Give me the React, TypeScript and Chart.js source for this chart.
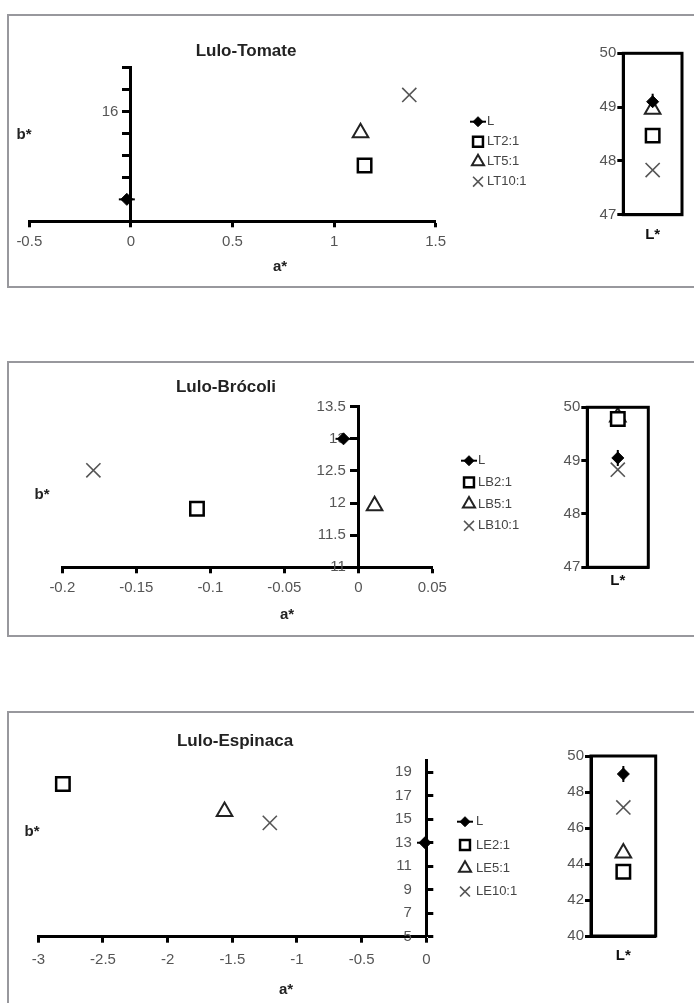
import React, { useEffect, useRef } from 'react';
import { Chart, registerables } from 'chart.js';
import { drawPoint } from 'chart.js/helpers';

Chart.register(...registerables);

// ---------------- data ----------------
const seriesTomate = ['L', 'LT2:1', 'LT5:1', 'LT10:1'];
const aTomate = [-0.02, 1.15, 1.13, 1.37];
const bTomate = [14.0, 14.77, 15.52, 16.38];
const lTomate = [49.1, 48.47, 48.96, 47.83];
const aTicksTomate = [-0.5, 0, 0.5, 1, 1.5];
const aLabelsTomate = ['-0.5', '0', '0.5', '1', '1.5'];
const bTicksTomate = [13.5, 14, 14.5, 15, 15.5, 16, 16.5, 17];
const bLabelsTomate = ['', '', '', '', '', '16', '', ''];
const lTicksTomate = [47, 48, 49, 50];
const lLabelsTomate = ['47', '48', '49', '50'];

const seriesBrocoli = ['L', 'LB2:1', 'LB5:1', 'LB10:1'];
const aBrocoli = [-0.01, -0.109, 0.011, -0.179];
const bBrocoli = [13.0, 11.91, 11.96, 12.51];
const lBrocoli = [49.05, 49.78, 49.82, 48.83];
const aTicksBrocoli = [-0.2, -0.15, -0.1, -0.05, 0, 0.05];
const aLabelsBrocoli = ['-0.2', '-0.15', '-0.1', '-0.05', '0', '0.05'];
const bTicksBrocoli = [11, 11.5, 12, 12.5, 13, 13.5];
const bLabelsBrocoli = ['11', '11.5', '12', '12.5', '13', '13.5'];
const lTicksBrocoli = [47, 48, 49, 50];
const lLabelsBrocoli = ['47', '48', '49', '50'];

const seriesEspinaca = ['L', 'LE2:1', 'LE5:1', 'LE10:1'];
const aEspinaca = [-0.01, -2.81, -1.56, -1.21];
const bEspinaca = [13.0, 18.0, 15.66, 14.69];
const lEspinaca = [49.0, 43.57, 44.61, 47.14];
const aTicksEspinaca = [-3, -2.5, -2, -1.5, -1, -0.5, 0];
const aLabelsEspinaca = ['-3', '-2.5', '-2', '-1.5', '-1', '-0.5', '0'];
const bTicksEspinaca = [5, 7, 9, 11, 13, 15, 17, 19];
const bLabelsEspinaca = ['5', '7', '9', '11', '13', '15', '17', '19'];
const lTicksEspinaca = [40, 42, 44, 46, 48, 50];
const lLabelsEspinaca = ['40', '42', '44', '46', '48', '50'];

const lCategory = ['L*'];

// ---------------- styles ----------------
const FONT = "'Liberation Sans', Arial, sans-serif";

const markerStyles = [
  { pointStyle: 'rectRot', radius: 6, legendRadius: 5, fill: '#000', border: '#000', width: 1 },
  { pointStyle: 'rect', radius: 9.5, legendRadius: 7, fill: '#fff', border: '#000', width: 2.5 },
  { pointStyle: 'triangle', radius: 9, legendRadius: 7, fill: '#fff', border: '#222', width: 2 },
  { pointStyle: 'crossRot', radius: 10, legendRadius: 7, fill: '#555', border: '#555', width: 1.6 },
];

type PanelData = {
  title: string;
  series: string[];
  a: number[]; b: number[]; l: number[];
  aMin: number; aMax: number; aTicks: number[]; aLabels: string[];
  bMin: number; bMax: number; bTicks: number[]; bLabels: string[];
  lMin: number; lMax: number; lTicks: number[]; lLabels: string[];
};

const panels: PanelData[] = [
  {
    title: 'Lulo-Tomate', series: seriesTomate, a: aTomate, b: bTomate, l: lTomate,
    aMin: -0.5, aMax: 1.5, aTicks: aTicksTomate, aLabels: aLabelsTomate,
    bMin: 13.5, bMax: 17, bTicks: bTicksTomate, bLabels: bLabelsTomate,
    lMin: 47, lMax: 50, lTicks: lTicksTomate, lLabels: lLabelsTomate,
  },
  {
    title: 'Lulo-Brócoli', series: seriesBrocoli, a: aBrocoli, b: bBrocoli, l: lBrocoli,
    aMin: -0.2, aMax: 0.05, aTicks: aTicksBrocoli, aLabels: aLabelsBrocoli,
    bMin: 11, bMax: 13.5, bTicks: bTicksBrocoli, bLabels: bLabelsBrocoli,
    lMin: 47, lMax: 50, lTicks: lTicksBrocoli, lLabels: lLabelsBrocoli,
  },
  {
    title: 'Lulo-Espinaca', series: seriesEspinaca, a: aEspinaca, b: bEspinaca, l: lEspinaca,
    aMin: -3, aMax: 0, aTicks: aTicksEspinaca, aLabels: aLabelsEspinaca,
    bMin: 5, bMax: 20, bTicks: bTicksEspinaca, bLabels: bLabelsEspinaca,
    lMin: 40, lMax: 50, lTicks: lTicksEspinaca, lLabels: lLabelsEspinaca,
  },
];

// layout (page pixel coordinates)
const layouts = [
  {
    frame: { left: 7, top: 14, height: 274 },
    title: { x: 246, y: 50 }, bLabel: { x: 24, y: 133 }, aLabel: { x: 280, y: 265 },
    scatter: { left: 10, top: 16, width: 560, height: 268, L: 29.3, R: 435.7, T: 67.7, B: 221.3, tickPad: 6, yRight: false, yGap: 3 },
    legend: { x: 478, y: 121.7, dy: 20, tx: 487 },
    lbox: { left: 575, top: 16, width: 119, height: 268, L: 623.3, R: 686, T: 53.3, B: 214.7, labelPad: 11 },
  },
  {
    frame: { left: 7, top: 361, height: 276 },
    title: { x: 226, y: 386 }, bLabel: { x: 42, y: 493 }, aLabel: { x: 287, y: 613 },
    scatter: { left: 10, top: 364, width: 530, height: 270, L: 62.3, R: 432.3, T: 406.7, B: 567.3, tickPad: 6, yRight: false, yGap: 3 },
    legend: { x: 469, y: 460.7, dy: 21.7, tx: 478 },
    lbox: { left: 540, top: 364, width: 154, height: 270, L: 587.3, R: 648.3, T: 407.3, B: 567.3, labelPad: 5 },
  },
  {
    frame: { left: 7, top: 711, height: 400 },
    title: { x: 235, y: 740 }, bLabel: { x: 32, y: 830 }, aLabel: { x: 286, y: 988 },
    scatter: { left: 10, top: 714, width: 530, height: 289, L: 38.3, R: 426.3, T: 760.5, B: 936.7, tickPad: 8, yRight: true, yGap: 0 },
    legend: { x: 465, y: 821.7, dy: 23.3, tx: 476 },
    lbox: { left: 540, top: 714, width: 154, height: 289, L: 591, R: 655.7, T: 756, B: 936, labelPad: 11 },
  },
];

const X_AXIS_H = 30;
const Y_RIGHT_W = 10;
const L_XAXIS_H = 40;

const labelFor = (vals: number[], labs: string[], v: number) => {
  const i = vals.findIndex((t) => Math.abs(t - v) < 1e-9);
  return i >= 0 ? labs[i] : '';
};

function legendPlugin(names: string[], pos: { x: number; y: number; dy: number; tx: number }, offX: number, offY: number) {
  return {
    id: 'customLegend',
    afterDraw(chart: any) {
      const ctx = chart.ctx as CanvasRenderingContext2D;
      ctx.save();
      names.forEach((name, i) => {
        const st = markerStyles[i];
        const x = pos.x - offX;
        const y = pos.y - offY + i * pos.dy;
        if (i === 0) {
          ctx.beginPath();
          ctx.strokeStyle = '#000';
          ctx.lineWidth = 2;
          ctx.moveTo(x - 8, y);
          ctx.lineTo(x + 8, y);
          ctx.stroke();
        }
        ctx.fillStyle = st.fill;
        ctx.strokeStyle = st.border;
        ctx.lineWidth = st.width;
        drawPoint(ctx, { pointStyle: st.pointStyle as any, radius: st.legendRadius, borderWidth: st.width, rotation: 0 }, x, y);
        ctx.fillStyle = '#444';
        ctx.font = `13px ${FONT}`;
        ctx.textAlign = 'left';
        ctx.textBaseline = 'middle';
        ctx.fillText(name, pos.tx - offX, y);
      });
      ctx.restore();
    },
  };
}

const boxPlugin = {
  id: 'boxBorder',
  afterDraw(chart: any) {
    const { left, top, right, bottom } = chart.chartArea;
    const ctx = chart.ctx as CanvasRenderingContext2D;
    ctx.save();
    ctx.strokeStyle = '#000';
    ctx.lineWidth = 3;
    ctx.strokeRect(left, top, right - left, bottom - top);
    ctx.restore();
  },
};

function scatterConfig(p: PanelData, lay: any): any {
  const s = lay.scatter;
  const padding = {
    left: s.L - s.left,
    top: s.T - s.top,
    right: s.left + s.width - s.R - (s.yRight ? Y_RIGHT_W : 0),
    bottom: s.top + s.height - s.B - X_AXIS_H,
  };
  const datasets: any[] = p.series.map((name, i) => ({
    label: name,
    data: [{ x: p.a[i], y: p.b[i] }],
    pointStyle: markerStyles[i].pointStyle,
    pointRadius: markerStyles[i].radius,
    pointBackgroundColor: markerStyles[i].fill,
    pointBorderColor: markerStyles[i].border,
    pointBorderWidth: markerStyles[i].width,
    clip: false,
  }));
  datasets.push({
    label: 'L-bar',
    data: [{ x: p.a[0], y: p.b[0] }],
    pointStyle: 'line',
    pointRadius: 8,
    pointBorderColor: '#000',
    pointBorderWidth: 2,
    clip: false,
  });
  const tickFont = { family: FONT, size: 15 };
  const grid = { drawOnChartArea: false, drawTicks: true, tickLength: 6, tickWidth: 3, color: '#000', tickColor: '#000' };
  const border = { display: true, color: '#000', width: 3 };
  const gap = ' '.repeat(s.yGap);
  const yScale: any = {
    type: 'linear',
    position: s.yRight ? 'right' : { x: 0 },
    min: p.bMin, max: p.bMax,
    afterBuildTicks: (ax: any) => { ax.ticks = p.bTicks.map((v) => ({ value: v })); },
    grid: { ...grid, tickLength: 7 },
    border,
    ticks: {
      mirror: s.yRight, padding: s.yRight ? -14.5 : 5, color: '#555', font: tickFont, autoSkip: false,
      callback: (v: number) => {
        const t = labelFor(p.bTicks, p.bLabels, v);
        return t ? t + gap : '';
      },
    },
  };
  if (s.yRight) yScale.afterFit = (ax: any) => { ax.width = Y_RIGHT_W; };
  return {
    type: 'scatter',
    data: { datasets },
    options: {
      animation: false,
      responsive: false,
      maintainAspectRatio: false,
      events: [],
      layout: { padding },
      plugins: { legend: { display: false }, tooltip: { enabled: false }, title: { display: false } },
      scales: {
        x: {
          type: 'linear', position: 'bottom', min: p.aMin, max: p.aMax,
          afterBuildTicks: (ax: any) => { ax.ticks = p.aTicks.map((v) => ({ value: v })); },
          afterFit: (ax: any) => { ax.height = X_AXIS_H; },
          grid, border,
          ticks: {
            autoSkip: false, maxRotation: 0, padding: s.tickPad, color: '#555', font: tickFont,
            callback: (v: number) => labelFor(p.aTicks, p.aLabels, v),
          },
        },
        y: yScale,
      },
    },
    plugins: [legendPlugin(p.series, lay.legend, s.left, s.top)],
  };
}

function lConfig(p: PanelData, lay: any): any {
  const s = lay.lbox;
  const yW = s.L - s.left;
  const padding = { left: 0, top: s.T - s.top, right: s.left + s.width - s.R, bottom: s.top + s.height - s.B - L_XAXIS_H };
  const datasets: any[] = p.series.map((name, i) => ({
    label: name,
    data: [p.l[i]],
    showLine: false,
    pointStyle: markerStyles[i].pointStyle,
    pointRadius: markerStyles[i].radius,
    pointBackgroundColor: markerStyles[i].fill,
    pointBorderColor: markerStyles[i].border,
    pointBorderWidth: markerStyles[i].width,
    clip: false,
  }));
  datasets.push({
    label: 'L-bar', data: [p.l[0]], showLine: false, pointStyle: 'line', pointRotation: 90,
    pointRadius: 8, pointBorderColor: '#000', pointBorderWidth: 2, clip: false,
  });
  return {
    type: 'line',
    data: { labels: lCategory, datasets },
    options: {
      animation: false, responsive: false, maintainAspectRatio: false, events: [],
      layout: { padding },
      plugins: { legend: { display: false }, tooltip: { enabled: false } },
      scales: {
        x: {
          type: 'category', offset: true,
          afterFit: (ax: any) => { ax.height = L_XAXIS_H; },
          grid: { display: false, drawTicks: false },
          border: { display: true, color: '#000', width: 3 },
          ticks: { padding: s.labelPad, color: '#111', font: { family: FONT, size: 15, weight: 'bold' } },
        },
        y: {
          type: 'linear', min: p.lMin, max: p.lMax,
          afterBuildTicks: (ax: any) => { ax.ticks = p.lTicks.map((v) => ({ value: v })); },
          afterFit: (ax: any) => { ax.width = yW; },
          grid: { drawOnChartArea: false, drawTicks: true, tickLength: 6, tickWidth: 3, color: '#000', tickColor: '#000' },
          border: { display: true, color: '#000', width: 3 },
          ticks: { padding: 1, color: '#555', font: { family: FONT, size: 15 }, autoSkip: false,
            callback: (v: number) => labelFor(p.lTicks, p.lLabels, v) },
        },
      },
    },
    plugins: [boxPlugin],
  };
}

function ChartCanvas({ make, box }: { make: () => any; box: { left: number; top: number; width: number; height: number } }) {
  const ref = useRef<HTMLCanvasElement>(null);
  useEffect(() => {
    const chart = new Chart(ref.current as HTMLCanvasElement, make());
    return () => chart.destroy();
  }, []);
  return (
    <canvas
      ref={ref}
      width={box.width}
      height={box.height}
      style={{ position: 'absolute', left: box.left, top: box.top, width: box.width, height: box.height }}
    />
  );
}

function Text({ x, y, children, size, bold }: any) {
  return (
    <div
      style={{
        position: 'absolute', left: x, top: y, transform: 'translate(-50%, -50%)',
        fontFamily: FONT, fontSize: size, fontWeight: bold ? 'bold' : 'normal', color: '#222',
        whiteSpace: 'nowrap', lineHeight: 1,
      }}
    >
      {children}
    </div>
  );
}

export default function App() {
  return (
    <div style={{ position: 'fixed', left: 0, top: 0, width: 694, height: 1003, overflow: 'hidden', background: '#fff' }}>
      {panels.map((p, i) => {
        const lay = layouts[i];
        return (
          <React.Fragment key={p.title}>
            <div
              style={{
                position: 'absolute', left: lay.frame.left, top: lay.frame.top, width: 700, height: lay.frame.height,
                border: '2px solid #98989d', boxSizing: 'border-box',
              }}
            />
            <ChartCanvas make={() => scatterConfig(p, lay)} box={lay.scatter} />
            <ChartCanvas make={() => lConfig(p, lay)} box={lay.lbox} />
            <Text x={lay.title.x} y={lay.title.y} size={17} bold>{p.title}</Text>
            <Text x={lay.bLabel.x} y={lay.bLabel.y} size={15} bold>b*</Text>
            <Text x={lay.aLabel.x} y={lay.aLabel.y} size={15} bold>a*</Text>
          </React.Fragment>
        );
      })}
    </div>
  );
}
